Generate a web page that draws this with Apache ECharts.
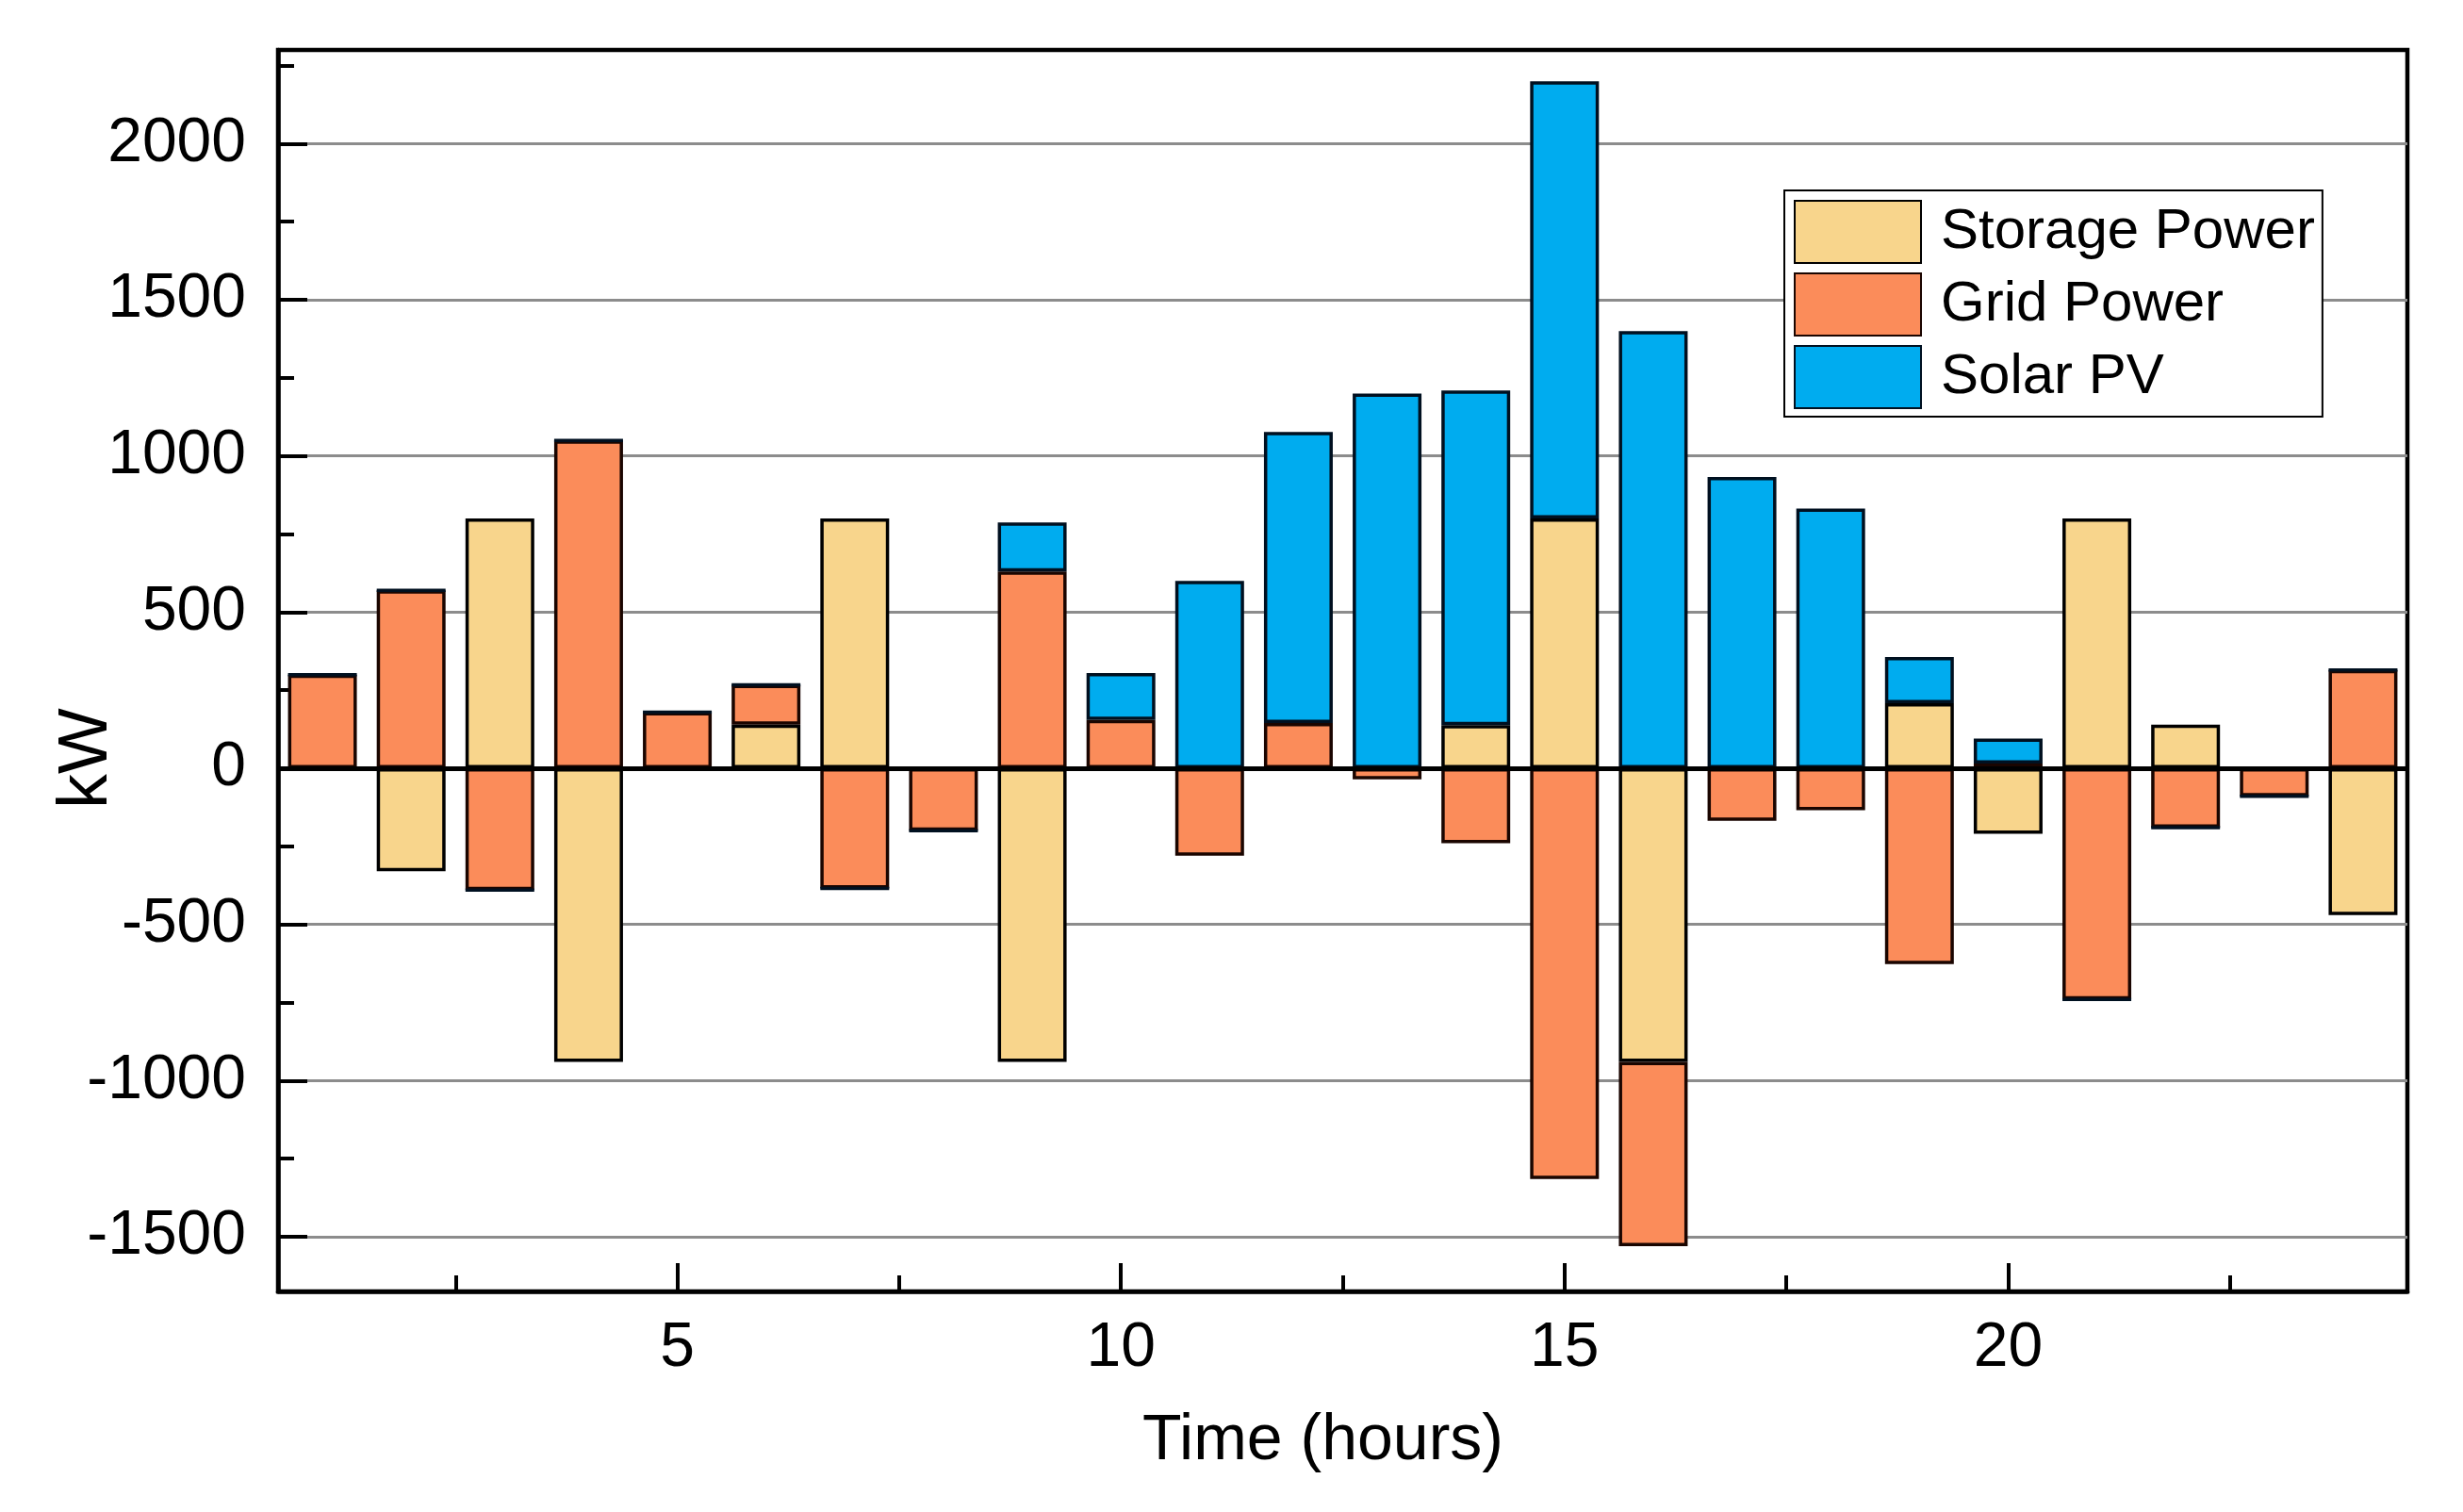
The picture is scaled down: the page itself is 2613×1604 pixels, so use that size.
<!DOCTYPE html>
<html>
<head>
<meta charset="utf-8">
<script src="https://cdn.jsdelivr.net/npm/echarts@6/dist/echarts.min.js"></script>
<style>
html,body{margin:0;padding:0;background:#fff;}
#c{width:2613px;height:1604px;}
</style>
</head>
<body>
<div id="c"></div>
<script>
const hours = [1,2,3,4,5,6,7,8,9,10,11,12,13,14,15,16,17,18,19,20,21,22,23,24];
const storagePower = [0,-330,800,-940,0,140,800,0,-940,0,0,0,0,138,800,-940,0,0,208,-210,800,140,0,-470];
const gridPower = [300,570,-390,1050,180,127,-385,-200,630,155,-280,145,-35,-240,-1315,-590,-168,-134,-627,15,-740,-190,-90,315];
const solarPV = [0,0,0,0,0,0,0,0,157,150,600,932,1200,1072,1400,1400,933,832,148,80,0,0,0,0];
const yMajorTicks = [-1500,-1000,-500,0,500,1000,1500,2000];
const yMinorTicks = [-1250,-750,-250,250,750,1250,1750,2250];
const xMajorTicks = [5,10,15,20];
const xMinorTicks = [2.5,7.5,12.5,17.5,22.5];

const FONT = 'Liberation Sans, Arial, sans-serif';
const plain = v => String(v);

const barCommon = {
  type: 'bar',
  stack: 'total',
  barWidth: 73,
  xAxisIndex: 2,
  yAxisIndex: 0,
  animation: false
};

const chart = echarts.init(document.getElementById('c'), null, {width: 2613, height: 1604});
chart.setOption({
  backgroundColor: '#fff',
  animation: false,
  grid: {
    left: 295, right: 59, top: 53, bottom: 234,
    show: true, borderColor: '#000', borderWidth: 4.5, backgroundColor: 'transparent'
  },
  legend: {
    orient: 'vertical',
    left: 1893, top: 202,
    padding: [10, 8, 8, 10],
    itemWidth: 134, itemHeight: 66, itemGap: 9,
    icon: 'rect',
    backgroundColor: '#fff',
    borderColor: '#000', borderWidth: 2,
    textStyle: {fontFamily: FONT, fontSize: 60, color: '#000', padding: [0, 0, 0, 16]},
    data: ['Storage Power', 'Grid Power', 'Solar PV']
  },
  xAxis: [{
    type: 'value', min: 0.5, max: 24.5, position: 'bottom',
    name: 'Time (hours)', nameLocation: 'middle', nameGap: 125, nameMoveOverlap: false,
    nameTextStyle: {fontFamily: FONT, fontSize: 68, color: '#000', padding: [0, 42, 0, 0]},
    axisLine: {onZero: false, lineStyle: {color: '#000', width: 4.5}},
    axisTick: {show: true, inside: true, length: 30, customValues: xMajorTicks, lineStyle: {color: '#000', width: 4}},
    axisLabel: {customValues: xMajorTicks, formatter: plain, fontFamily: FONT, fontSize: 66, color: '#000', margin: 28},
    splitLine: {show: false}
  }, {
    type: 'value', min: 0.5, max: 24.5, position: 'bottom',
    axisLine: {show: false, onZero: false},
    axisTick: {show: true, inside: true, length: 17, customValues: xMinorTicks, lineStyle: {color: '#000', width: 4}},
    axisLabel: {show: false},
    splitLine: {show: false}
  }, {
    type: 'category', data: hours.map(String), boundaryGap: true, position: 'bottom',
    show: false,
    axisLine: {show: false, onZero: false},
    axisTick: {show: false},
    axisLabel: {show: false},
    splitLine: {show: false}
  }],
  yAxis: [{
    type: 'value', min: -1675, max: 2300, position: 'left',
    name: 'kW', nameLocation: 'middle', nameGap: 165, nameMoveOverlap: false,
    nameTextStyle: {fontFamily: FONT, fontSize: 74, color: '#000', padding: [0, 186, 0, 0]},
    axisLine: {show: true, onZero: false, lineStyle: {color: '#000', width: 4.5}},
    axisTick: {show: true, inside: true, length: 31, customValues: yMajorTicks, lineStyle: {color: '#000', width: 4}},
    axisLabel: {customValues: yMajorTicks, formatter: plain, fontFamily: FONT, fontSize: 66, color: '#000', margin: 34},
    splitLine: {show: true, lineStyle: {color: '#8c8c8c', width: 3}}
  }, {
    type: 'value', min: -1675, max: 2300, position: 'left',
    axisLine: {show: false, onZero: false},
    axisTick: {show: true, inside: true, length: 17, customValues: yMinorTicks, lineStyle: {color: '#000', width: 4}},
    axisLabel: {show: false},
    splitLine: {show: false}
  }],
  series: [
    Object.assign({}, barCommon, {
      name: 'Storage Power',
      data: storagePower,
      itemStyle: {color: '#F8D58C', borderColor: '#000', borderWidth: 3.5}
    }),
    Object.assign({}, barCommon, {
      name: 'Grid Power',
      data: gridPower,
      itemStyle: {color: '#FB8C5A', borderColor: '#1a0500', borderWidth: 3.5}
    }),
    Object.assign({}, barCommon, {
      name: 'Solar PV',
      data: solarPV,
      itemStyle: {color: '#00ACEF', borderColor: '#001020', borderWidth: 3.5},
      markLine: {
        silent: true, symbol: 'none', animation: false,
        label: {show: false},
        lineStyle: {color: '#000', width: 5, type: 'solid'},
        data: [{yAxis: 0}]
      }
    })
  ]
});
</script>
</body>
</html>
